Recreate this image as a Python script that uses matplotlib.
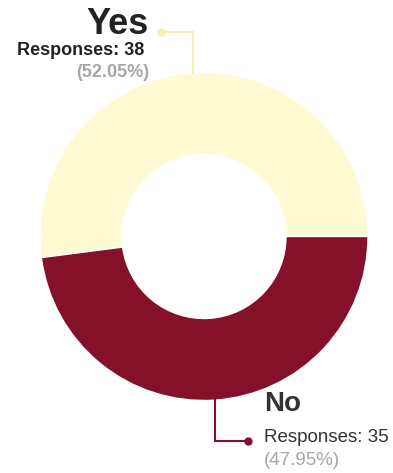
import numpy as np
import matplotlib
matplotlib.use("Agg")
import matplotlib.pyplot as plt

plt.rcParams['font.family'] = ['Liberation Sans', 'DejaVu Sans']

labels = ['Yes', 'No']
responses = [38, 35]
colors = ['#FEFBD3', '#85102A']
line_colors = ['#F7F0B4', '#85102A']

W, H = 393, 473
fig = plt.figure(figsize=(W / 100, H / 100), dpi=100)
ax = fig.add_axes([0, 0, 1, 1])

cx, cy = 204, H - 236.5
r_out, r_in = 164, 82

wedges, _ = ax.pie(responses, colors=colors, startangle=0, counterclock=True,
                   center=(cx, cy), radius=r_out, frame=True,
                   wedgeprops=dict(width=r_out - r_in, edgecolor='white', linewidth=1))
ax.set_xlim(0, W)
ax.set_ylim(0, H)
ax.set_aspect('equal')
ax.axis('off')

total = sum(responses)
pcts = [v / total * 100 for v in responses]

# leader lines start at each wedge's middle angle
def mid_point(w):
    a = np.deg2rad((w.theta1 + w.theta2) / 2)
    return cx + r_out * np.cos(a), cy + r_out * np.sin(a)

# Yes: up, then left
x0, y0 = mid_point(wedges[0])
ty = H - 32
tx = 161
ax.plot([x0, x0, tx], [y0, ty, ty], color=line_colors[0], lw=1.5, solid_joinstyle='miter')
ax.plot(tx, ty, 'o', color=line_colors[0], ms=5)

ax.text(149, H - 34, labels[0], ha='right', va='baseline', fontsize=26,
        fontweight='bold', color='#222222')
ax.text(144, H - 55, f'Responses: {responses[0]}', ha='right', va='baseline',
        fontsize=13, fontweight='bold', color='#222222')
ax.text(149, H - 77, f'({pcts[0]:.2f}%)', ha='right', va='baseline',
        fontsize=13, fontweight='bold', color='#A6A6A6')

# No: down, then right
x1, y1 = mid_point(wedges[1])
by = H - 441
bx = 248
ax.plot([x1, x1, bx], [y1, by, by], color=line_colors[1], lw=1.5, solid_joinstyle='miter')
ax.plot(bx, by, 'o', color=line_colors[1], ms=5)

ax.text(264, H - 411, labels[1], ha='left', va='baseline', fontsize=20,
        fontweight='bold', color='#333333')
ax.text(264, H - 442, f'Responses: {responses[1]}', ha='left', va='baseline',
        fontsize=13.5, color='#333333')
ax.text(264, H - 465, f'({pcts[1]:.2f}%)', ha='left', va='baseline',
        fontsize=13.5, color='#A6A6A6')

fig.savefig('out.png', dpi=100)
